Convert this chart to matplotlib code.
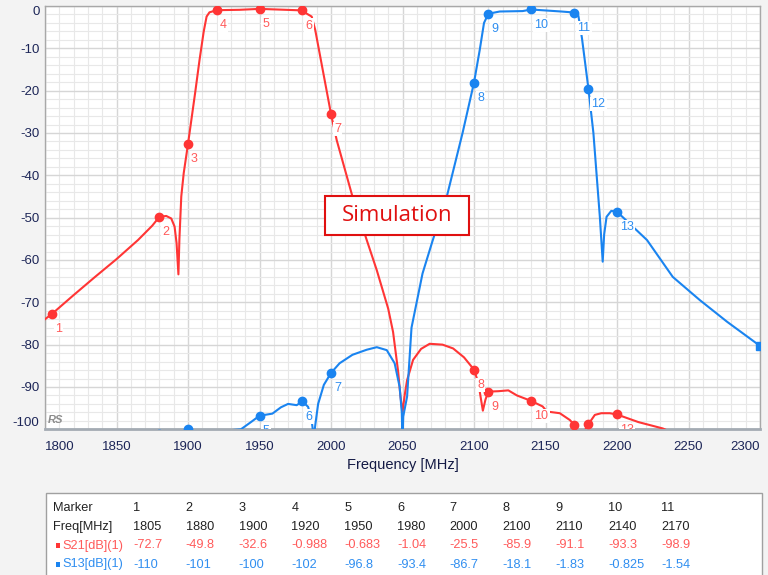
import matplotlib.pyplot as plt
import numpy as np
from matplotlib.patches import Rectangle
from matplotlib.ticker import MultipleLocator

plt.rcParams["axes.unicode_minus"] = False
plt.rcParams["font.family"] = ["Liberation Sans", "DejaVu Sans"]

# S21 trace (red)
s21_freq = [1800, 1805, 1820, 1835, 1850, 1865, 1875, 1880, 1884.8, 1888.3, 1890.6,
            1892, 1893.3, 1894, 1895.3, 1897, 1900, 1905, 1908, 1911, 1913, 1915, 1920,
            1936, 1950, 1980, 1983, 1986.5, 1989, 2000, 2004, 2015, 2025, 2032, 2040,
            2043.4, 2047, 2048.5, 2050, 2051.5, 2053.2, 2057.4, 2063, 2069, 2078,
            2085.4, 2093, 2100, 2103, 2106.2, 2108, 2110, 2117, 2124, 2130, 2140,
            2148, 2151, 2160, 2167, 2170, 2173, 2176, 2178, 2180, 2184.5, 2189,
            2195, 2200, 2215, 2232, 2240, 2300]
s21_db = [-74.0, -72.7, -68.3, -64.0, -59.8, -55.3, -51.9, -49.8, -49.6, -50.2, -52.1,
          -56.0, -63.4, -55.0, -45.0, -39.5, -32.6, -20.5, -12.9, -6.0, -2.5, -1.5, -0.988,
          -0.9, -0.683, -1.04, -1.8, -2.5, -5.7, -25.5, -31.7, -45.0, -55.3, -62.4, -71.5,
          -77.0, -86.5, -92.0, -96.0, -92.0, -88.4, -83.6, -81.0, -79.8, -80.0,
          -80.9, -83.0, -85.9, -89.0, -95.6, -93.0, -91.1, -91.0, -90.8, -92.0, -93.3,
          -94.6, -95.8, -96.2, -97.8, -98.9, -101.0, -102.0, -100.0, -98.8, -96.6, -96.2,
          -96.2, -96.5, -98.3, -99.8, -101.0, -105.0]

# S13 trace (blue)
s13_freq = [1800, 1805, 1850, 1880, 1893, 1900, 1905, 1915, 1920, 1927, 1937, 1944,
            1950, 1959, 1965, 1970, 1976, 1980, 1984, 1986.5, 1988, 1989, 1991, 1995,
            2000, 2006, 2015, 2025, 2032, 2039, 2044.5, 2048, 2049.5, 2050, 2050.5,
            2053.2, 2056.3, 2064, 2071, 2081, 2092, 2100, 2104, 2107, 2110, 2118,
            2134, 2140, 2161, 2170, 2173, 2175.5, 2180, 2183.5, 2188, 2190, 2191,
            2192.7, 2196, 2200, 2211, 2221, 2239, 2258, 2277, 2300]
s13_db = [-112, -110, -104, -101, -100.5, -100, -101, -103, -102, -100.3, -100, -98.3,
          -96.8, -96.3, -94.8, -94.0, -94.3, -93.4, -94.7, -98.0, -102.0, -99.0, -94.0, -89.5,
          -86.7, -84.4, -82.4, -81.2, -80.6, -81.3, -84.4, -90.0, -96.0, -103.0, -97.0,
          -92.3, -76.0, -63.2, -55.5, -45.0, -30.0, -18.1, -10.4, -4.0, -1.83, -1.3,
          -1.2, -0.825, -1.3, -1.54, -2.3, -7.6, -19.5, -30.0, -49.8, -60.4, -54.0,
          -49.8, -48.4, -48.6, -52.1, -55.3, -64.0, -69.5, -74.6, -80.3]

# markers
marker_ids = [1, 2, 3, 4, 5, 6, 7, 8, 9, 10, 11, 12, 13]
marker_freq = [1805, 1880, 1900, 1920, 1950, 1980, 2000, 2100, 2110, 2140, 2170, 2180, 2200]
s21_marker_db = [-72.7, -49.8, -32.6, -0.988, -0.683, -1.04, -25.5, -85.9, -91.1, -93.3,
                 -98.9, -98.8, -96.5]
s13_marker_db = [-110, -101, -100, -102, -96.8, -93.4, -86.7, -18.1, -1.83, -0.825,
                 -1.54, -19.5, -48.6]
table_count = 11

RED = "#ff3535"
RED_TXT = "#ff5a5a"
BLUE = "#1a84f0"
BLUE_TXT = "#2f8ef0"
NAVY = "#1c2557"

fig = plt.figure(figsize=(7.68, 5.75), dpi=100, facecolor="#f3f3f3")
ax = fig.add_axes([45 / 768, 1 - 429.3 / 575, 715 / 768, 423.3 / 575])
ax.set_facecolor("white")

ax.plot(s21_freq, s21_db, color=RED, lw=1.5, zorder=3)
ax.plot(s13_freq, s13_db, color=BLUE, lw=1.5, zorder=3)
ax.plot(marker_freq, s21_marker_db, "o", color=RED, ms=6, zorder=4)
ax.plot(marker_freq, s13_marker_db, "o", color=BLUE, ms=6, zorder=4)
ax.plot(s13_freq[-1], s13_db[-1], "s", color=BLUE, ms=6, zorder=4)

# marker numbers; the ones that fall fully below the plot floor are not drawn
for mid, f, r, b in zip(marker_ids, marker_freq, s21_marker_db, s13_marker_db):
    for val, col in ((r, RED_TXT), (b, BLUE_TXT)):
        if val < -98:
            continue
        ax.annotate(str(mid), (f, val), xytext=(2.2, -11), textcoords="offset points",
                    ha="left", va="center", fontsize=9, color=col, clip_on=True,
                    zorder=5, annotation_clip=False,
                    bbox=dict(boxstyle="square,pad=0.1", fc="white", ec="none"))

ax.set_xlim(1800, 2300)
ax.set_ylim(-100, 0)
ax.xaxis.set_major_locator(MultipleLocator(50))
ax.xaxis.set_minor_locator(MultipleLocator(10))
ax.yaxis.set_major_locator(MultipleLocator(10))
ax.yaxis.set_minor_locator(MultipleLocator(2))
ax.grid(True, which="major", color="#d6d6d6", lw=1.0, zorder=0)
ax.grid(True, which="minor", color="#e8e8e8", lw=0.8, zorder=0)
ax.set_axisbelow(True)

ax.tick_params(which="both", length=0)
ax.tick_params(axis="x", pad=8.5, labelsize=9.5, labelcolor=NAVY)
ax.tick_params(axis="y", pad=4, labelsize=9.5, labelcolor=NAVY)

xt = np.arange(1800, 2301, 50)
ax.set_xticks(xt)
xl = ax.set_xticklabels([str(v) for v in xt])
xl[0].set_ha("left")
xl[-1].set_ha("right")
yt = np.arange(0, -101, -10)
ax.set_yticks(yt)
yl = ax.set_yticklabels([str(v) for v in yt])
yl[0].set_va("top")
yl[-1].set_va("bottom")

for side in ("left", "top", "right"):
    ax.spines[side].set_color("#a8a8a8")
    ax.spines[side].set_linewidth(1)
ax.spines["bottom"].set_color("#a4abb3")
ax.spines["bottom"].set_linewidth(2)

ax.set_xlabel("Frequency [MHz]", fontsize=10.5, color="#141a45")
ax.xaxis.set_label_coords(0.5, -0.068)

ax.text(0.004, 0.022, "RS", transform=ax.transAxes, fontsize=8, style="italic",
        color="#8c8c8c", va="center", ha="left", fontweight="bold")

# Simulation box
ax.add_patch(Rectangle((0.3916, 0.459), 0.2014, 0.092, transform=ax.transAxes,
                       fc="white", ec="#e01010", lw=1.5, zorder=6))
ax.text(0.492, 0.505, "Simulation", transform=ax.transAxes, fontsize=16,
        color="#e01010", ha="center", va="center", zorder=7,
        family=["Open Sans", "DejaVu Sans"])

# marker table
fig.patches.append(Rectangle((45.5 / 768, -0.05), 716 / 768, 1 - 493 / 575 + 0.05,
                             transform=fig.transFigure, fc="white", ec="#a0a0a0",
                             lw=1, zorder=1))
row_y = [1 - 508 / 575, 1 - 527 / 575, 1 - 545.5 / 575, 1 - 564.5 / 575]
col_x = [(133 + 52.8 * i) / 768 for i in range(table_count)]
tfs = 9.2
fig.text(53 / 768, row_y[0], "Marker", fontsize=tfs, color="#222222", va="center", zorder=2)
fig.text(53 / 768, row_y[1], "Freq[MHz]", fontsize=tfs, color="#222222", va="center", zorder=2)
fig.text(62 / 768, row_y[2], "S21[dB](1)", fontsize=tfs, color=RED_TXT, va="center", zorder=2)
fig.text(62 / 768, row_y[3], "S13[dB](1)", fontsize=tfs, color=BLUE_TXT, va="center", zorder=2)
for yy, col in ((row_y[2], RED), (row_y[3], BLUE)):
    fig.patches.append(Rectangle((56 / 768, yy - 2.5 / 575), 4 / 768, 5 / 575,
                                 transform=fig.transFigure, fc=col, ec="none", zorder=2))
for i in range(table_count):
    x = col_x[i]
    fig.text(x, row_y[0], str(marker_ids[i]), fontsize=tfs, color="#222222", va="center")
    fig.text(x, row_y[1], str(marker_freq[i]), fontsize=tfs, color="#222222", va="center")
    fig.text(x, row_y[2], f"{s21_marker_db[i]:.3g}", fontsize=tfs, color=RED_TXT, va="center")
    fig.text(x, row_y[3], f"{s13_marker_db[i]:.3g}", fontsize=tfs, color=BLUE_TXT, va="center")

fig.savefig("out.png", dpi=100, facecolor=fig.get_facecolor())
